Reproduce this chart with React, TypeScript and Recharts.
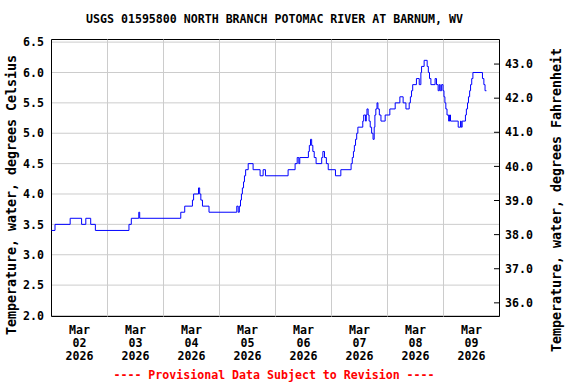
import React from 'react';
import { LineChart, Line, XAxis, YAxis, CartesianGrid, ReferenceLine, ReferenceArea } from 'recharts';

// hours since Mar 02 2026 00:00 where the reading changes, and the reading (deg C)
const hours = [
  0, 1.5, 8.0, 12.9, 14.7, 16.8, 18.8, 33.2, 34.2, 37.4, 37.8,
  55.4, 57.1, 60.4, 60.9, 63.0, 63.5, 64.0, 64.7, 67.5,
  79.4, 80.0, 80.5, 81.0, 81.4, 81.8, 82.3, 82.7, 83.2, 84.3, 86.4, 89.4, 90.7, 91.7,
  101.4, 104.4, 105.3, 106.0, 106.4, 110.1, 110.5, 111.0, 111.5, 112.0, 112.6, 113.4,
  115.8, 116.3, 117.0, 117.8, 118.6, 121.7, 124.0,
  128.4, 128.9, 129.4, 129.8, 130.3, 130.8, 131.3, 133.4, 133.8, 134.6, 134.9, 135.2,
  135.7, 136.1, 136.6, 137.2, 137.8, 138.3, 138.6, 139.0, 139.5, 139.9, 140.5, 141.2,
  143.0, 145.0, 147.3, 149.3, 150.7, 151.9, 153.3, 153.8, 154.3, 154.8, 156.4, 157.6,
  158.3, 158.6, 159.7, 161.0, 161.5, 162.0, 162.6, 164.4, 165.0, 165.7, 166.2, 166.6,
  167.2, 167.8, 168.2, 168.6, 169.0, 169.5, 170.2, 170.6, 171.0, 174.3, 175.3, 175.6,
  176.0, 177.4, 177.8, 178.3, 178.7, 179.2, 179.6, 180.1, 180.6, 184.7, 185.3, 185.8, 186.4,
];
const tempC = [
  3.4, 3.5, 3.6, 3.5, 3.6, 3.5, 3.4, 3.5, 3.6, 3.7, 3.6,
  3.7, 3.8, 3.9, 4.0, 4.1, 4.0, 3.9, 3.8, 3.7,
  3.8, 3.7, 3.8, 3.9, 4.0, 4.1, 4.2, 4.3, 4.4, 4.5, 4.4, 4.3, 4.4, 4.3,
  4.4, 4.5, 4.6, 4.5, 4.6, 4.7, 4.8, 4.9, 4.8, 4.7, 4.6, 4.5,
  4.6, 4.7, 4.6, 4.5, 4.4, 4.3, 4.4,
  4.5, 4.6, 4.7, 4.8, 4.9, 5.0, 5.1, 5.2, 5.3, 5.2, 5.3, 5.4,
  5.3, 5.2, 5.1, 5.0, 4.9, 5.1, 5.3, 5.4, 5.5, 5.4, 5.3, 5.2,
  5.3, 5.4, 5.5, 5.6, 5.5, 5.4, 5.5, 5.6, 5.7, 5.8, 5.9, 5.8,
  6.0, 6.1, 6.2, 6.1, 6.0, 5.9, 5.8, 5.9, 5.8, 5.7, 5.8, 5.7,
  5.8, 5.7, 5.6, 5.5, 5.4, 5.3, 5.2, 5.3, 5.2, 5.1, 5.2, 5.1,
  5.2, 5.3, 5.4, 5.5, 5.6, 5.7, 5.8, 5.9, 6.0, 5.9, 5.8, 5.7, 5.7,
];

const dayTicks = [12, 36, 60, 84, 108, 132, 156, 180];
const dayLabels = ['02', '03', '04', '05', '06', '07', '08', '09'];
const gridHours = [24, 48, 72, 96, 120, 144, 168];
const celsiusTicks = [2.0, 2.5, 3.0, 3.5, 4.0, 4.5, 5.0, 5.5, 6.0, 6.5];
const fahrenheitTicks = [36, 37, 38, 39, 40, 41, 42, 43];

const data = hours.map((h, i) => ({ h, c: tempC[i] }));

const FONT = '"DejaVu Sans Mono", monospace';

const DayTick = (props: any) => {
  const { x, payload } = props;
  const i = dayTicks.indexOf(payload.value);
  return (
    <text textAnchor="middle" fontFamily={FONT} fontWeight="bold" fontSize={11.6} fill="#000">
      <tspan x={x} y={334}>Mar</tspan>
      <tspan x={x} y={347.3}>{dayLabels[i]}</tspan>
      <tspan x={x} y={360}>2026</tspan>
    </text>
  );
};

const CTick = (props: any) => {
  const { y, payload } = props;
  return (
    <text x={44} y={y + 4.2} textAnchor="end" fontFamily={FONT} fontWeight="bold" fontSize={11.6} fill="#000">
      {payload.value.toFixed(1)}
    </text>
  );
};

const FTick = (props: any) => {
  const { y, payload } = props;
  return (
    <g>
      <line x1={494} x2={499.5} y1={y} y2={y} stroke="#000" />
      <text x={505} y={y + 4.2} textAnchor="start" fontFamily={FONT} fontWeight="bold" fontSize={11.6} fill="#000">
        {payload.value.toFixed(1)}
      </text>
    </g>
  );
};

const textBase: React.CSSProperties = {
  position: 'absolute',
  fontFamily: FONT,
  fontWeight: 'bold',
  whiteSpace: 'nowrap',
  lineHeight: '14px',
};

export default function App() {
  return (
    <div style={{ position: 'absolute', left: 0, top: 0, width: 576, height: 384, background: '#fff' }}>
      <LineChart
        width={576}
        height={384}
        data={data}
        margin={{ top: 39.5, right: 0, bottom: 0, left: 0 }}
      >
        <CartesianGrid yAxisId="c" vertical={false} stroke="#cccccc" />
        <XAxis
          dataKey="h"
          type="number"
          domain={[0, 192]}
          ticks={dayTicks}
          tick={<DayTick />}
          tickLine={false}
          axisLine={false}
          height={67.5}
          interval={0}
        />
        <YAxis
          yAxisId="c"
          type="number"
          domain={[1.9835, 6.543]}
          ticks={celsiusTicks}
          tick={<CTick />}
          tickLine={false}
          axisLine={false}
          width={51.5}
          interval={0}
          allowDataOverflow
        />
        <YAxis
          yAxisId="f"
          orientation="right"
          type="number"
          domain={[35.6, 43.72]}
          ticks={fahrenheitTicks}
          tick={<FTick />}
          tickLine={false}
          axisLine={false}
          width={76.5}
          interval={0}
          allowDataOverflow
        />
        {gridHours.map((g) => (
          <ReferenceLine key={g} yAxisId="c" x={g} stroke="#cccccc" />
        ))}
        <ReferenceArea yAxisId="c" x1={0} x2={192} y1={1.9835} y2={6.543} fill="none" stroke="#000" strokeOpacity={1} fillOpacity={0} />
        <Line
          yAxisId="c"
          type="stepAfter"
          dataKey="c"
          stroke="#0000ff"
          strokeWidth={1}
          dot={false}
          isAnimationActive={false}
        />
      </LineChart>
      <div style={{ ...textBase, left: 274.5, top: 12, transform: 'translateX(-50%)', fontSize: 11.6, color: '#000' }}>
        USGS 01595800 NORTH BRANCH POTOMAC RIVER AT BARNUM, WV
      </div>
      <div style={{ ...textBase, left: 274, top: 368, transform: 'translateX(-50%)', fontSize: 11.6, color: '#ff0000' }}>
        ---- Provisional Data Subject to Revision ----
      </div>
      <div style={{ ...textBase, left: 12, top: 195, transform: 'translate(-50%, -50%) rotate(-90deg)', fontSize: 13.3, color: '#000' }}>
        Temperature, water, degrees Celsius
      </div>
      <div style={{ ...textBase, left: 557, top: 200, transform: 'translate(-50%, -50%) rotate(-90deg)', fontSize: 13.3, color: '#000' }}>
        Temperature, water, degrees Fahrenheit
      </div>
    </div>
  );
}
